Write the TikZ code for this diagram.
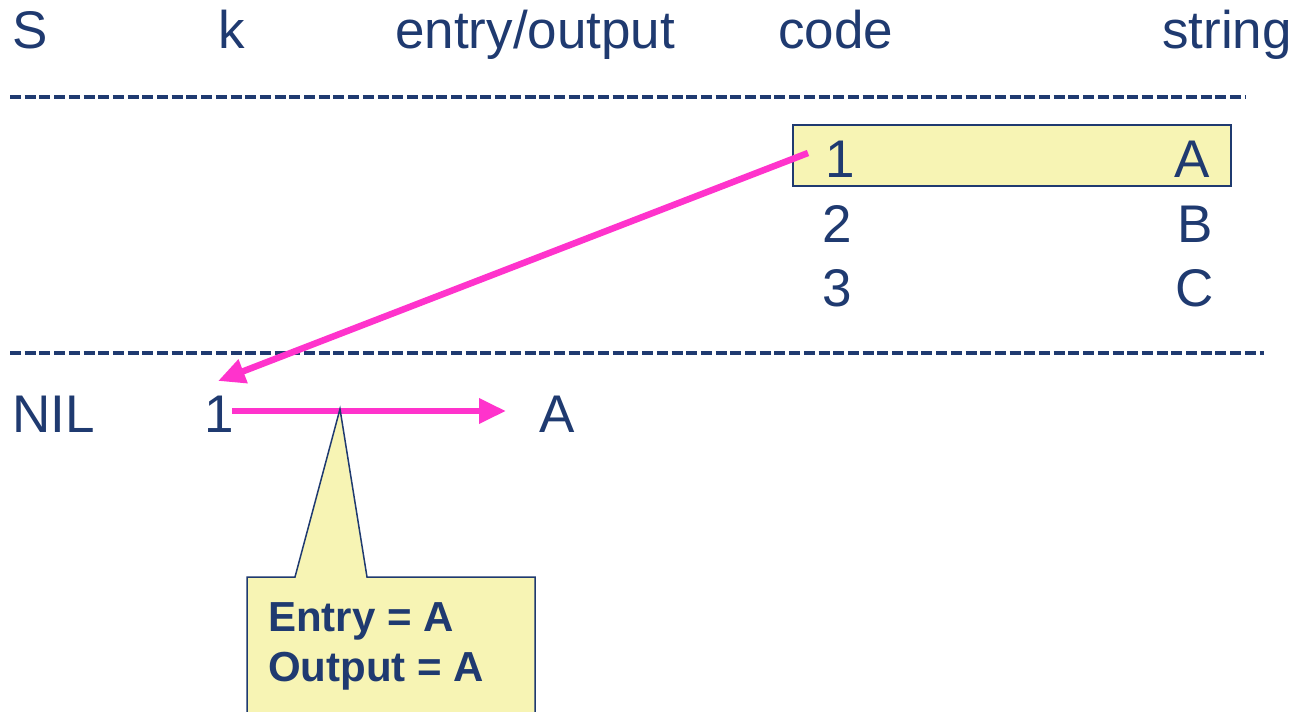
\documentclass[tikz,border=0pt]{standalone}
\usepackage{fontspec}
\setmainfont{Liberation Sans}
\usetikzlibrary{arrows.meta}
\definecolor{navy}{RGB}{31,58,112}
\definecolor{pinkline}{RGB}{255,51,204}
\definecolor{paleyellow}{RGB}{247,244,180}
\begin{document}
\begin{tikzpicture}[x=1pt,y=-1pt,
  lbl/.style={anchor=base west, inner sep=0pt, text=navy, font=\fontsize{53}{60}\selectfont},
  note/.style={anchor=base west, inner sep=0pt, text=navy, font=\fontsize{42}{50}\selectfont\bfseries},
  sep/.style={draw=navy, line width=4.5pt, dash pattern=on 11pt off 3.7pt},
  flow/.style={draw=pinkline, line width=6.5pt, -{Triangle[length=27pt,width=24pt]}},
  calloutbox/.style={fill=paleyellow, draw=navy, line width=1.5pt},
]
\clip (0,0) rectangle (1294,712);
\fill[white] (0,0) rectangle (1294,712);

% header
\node[lbl] (hS) at (12,48) {S};
\node[lbl] (hk) at (218,48) {k};
\node[lbl] (heo) at (395,48) {entry/output};
\node[lbl] (hcode) at (778,48) {code};
\node[lbl] (hstr) at (1162,48) {string};

\draw[sep] (10,97) -- (1246,97);

% highlighted row
\node[calloutbox, minimum width=438pt, minimum height=61pt, anchor=north west, inner sep=0pt] (hl) at (792,124) {};

\node[lbl] (c1) at (825,177) {1};
\node[lbl] (s1) at (1174,177) {A};
\node[lbl] (c2) at (822,242) {2};
\node[lbl] (s2) at (1177,242) {B};
\node[lbl] (c3) at (822,306) {3};
\node[lbl] (s3) at (1175,306) {C};

\draw[sep] (10,353) -- (1264,353);

% bottom row
\node[lbl] (nil) at (12,432) {NIL};
\node[lbl] (b1) at (204,432) {1};
\node[lbl] (bA) at (539,432) {A};

\coordinate (a1s) at (808,153);
\coordinate (a1e) at (218,381);
\draw[flow] (a1s) -- (a1e);

\coordinate (a2s) at (232,411);
\coordinate (a2e) at (506,411);
\draw[flow] (a2s) -- (a2e);

% callout
\filldraw[calloutbox] (247,720) -- (247,577) -- (295,577) -- (340,409) -- (367,577) -- (535,577) -- (535,720);
\node[note] (n1) at (268,631) {Entry = A};
\node[note] (n2) at (268,681) {Output = A};
\end{tikzpicture}
\end{document}
